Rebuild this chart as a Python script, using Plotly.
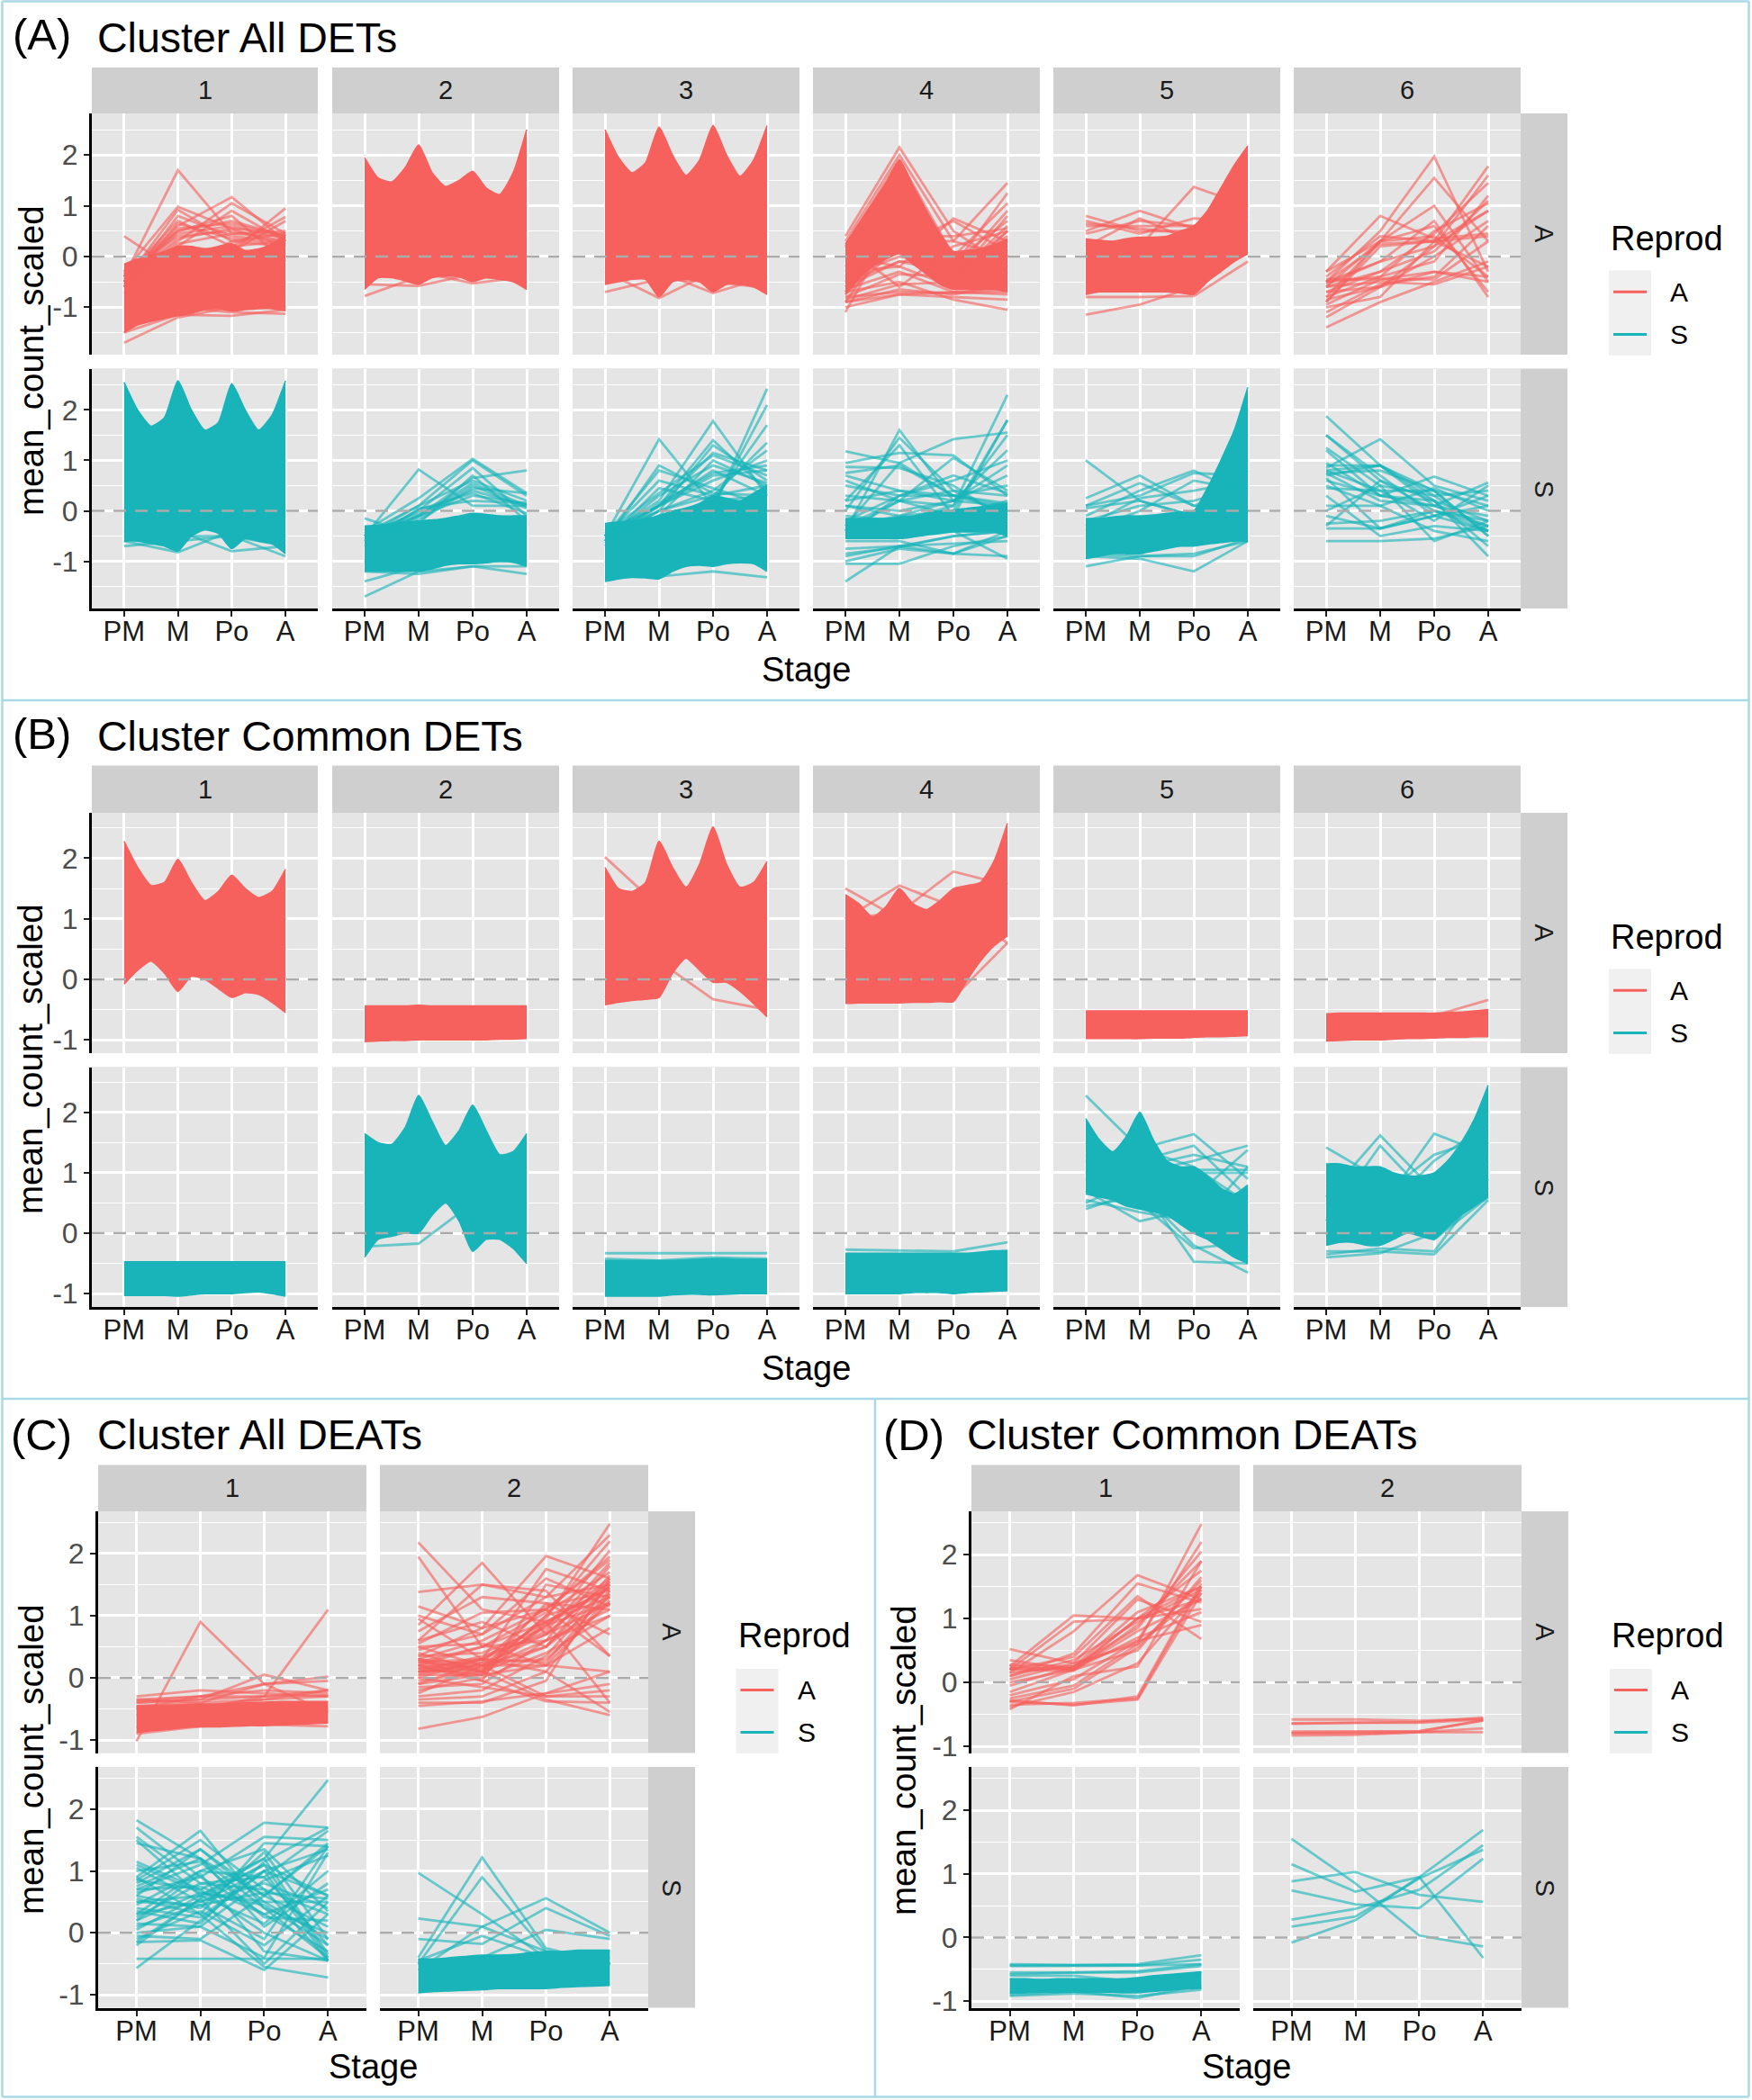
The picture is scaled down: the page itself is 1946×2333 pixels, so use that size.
import plotly.graph_objects as go

STAGES = ["PM", "M", "Po", "A"]
STAGE_X = [0, 1, 2, 3]
Y_TICKS = [-1, 0, 1, 2]
BAND_X = [0, .25, .5, .75, 1, 1.25, 1.5, 1.75, 2, 2.25, 2.5, 2.75, 3]

# ---- Dense bundles are summarised by their read-off upper/lower edge; stray lines are listed ----
# Panel A
A1A_top = [-.15, -.05, .02, .1, .2, .2, .15, .2, .25, .12, .15, .25, .42]
A1A_bot = [-1.5, -1.35, -1.28, -1.22, -1.17, -1.12, -1.05, -1.03, -1.08, -1.05, -1.03, -1.03, -1.07]
A1A_lines = [[-.4, 1.7, .45, .4], [.4, -.3, .3, .2], [-.3, .98, .55, .2], [-.5, .92, .3, .45], [-.6, .8, .4, .3], [-.4, .7, .2, .3], [-.4, .6, 1.17, .3], [-.5, .3, 1.05, .45], [-.6, .2, .9, .3], [-.5, .5, .8, -.1], [-.6, -.1, .1, .95], [-.5, 0, .2, .78], [-.4, .2, .1, .7], [-1.7, -1.2, -1, -.9], [-1.5, -1.15, -1.17, -1.05], [-.7, -1, -1.1, -1.13], [-.5, .55, .65, .4], [-.3, .4, .5, .3], [-.5, .45, .6, .35], [-.45, .35, .55, .45], [-.6, .65, .35, .25], [-.35, .5, .7, .4], [-.55, .25, .45, .5]]
A2A_top = [1.95, 1.55, 1.47, 1.75, 2.2, 1.65, 1.38, 1.5, 1.68, 1.35, 1.22, 1.65, 2.5]
A2A_bot = [-.65, -.42, -.42, -.48, -.55, -.42, -.38, -.4, -.5, -.42, -.45, -.5, -.65]
A2A_lines = [[-.78, -.4, -.38, -.5], [-.55, -.58, -.35, -.5], [-.3, -.3, -.53, -.4]]
A3A_top = [2.5, 1.95, 1.65, 1.85, 2.55, 2, 1.6, 1.9, 2.58, 2, 1.58, 1.9, 2.58]
A3A_bot = [-.55, -.5, -.45, -.45, -.8, -.5, -.45, -.5, -.7, -.55, -.55, -.6, -.75]
A3A_lines = [[-.7, -.45, -.5, -.62], [-.3, -.82, -.3, -.4], [-.3, -.3, -.72, -.4]]
A4A_top = [.25, .65, 1.05, 1.45, 1.9, 1.4, .9, .45, .1, .12, .15, .22, .35]
A4A_bot = [-.75, -.45, -.2, -.05, .05, -.15, -.35, -.55, -.65, -.65, -.65, -.65, -.7]
A4A_lines = [[.4, 2.15, .5, -.2], [.3, 2, .3, 0], [.2, 1.9, 0, .3], [-.7, 1.1, -.2, .3], [-1.1, .8, -.3, .4], [-.9, .6, -.5, .1], [-.6, .4, -.6, -.3], [.2, -.6, .2, .5], [0, -.2, .75, .3], [-.3, .2, .7, .1], [-.5, .3, .3, 1.45], [-.4, 0, -.2, 1.25], [-.4, .1, 0, 1.05], [-.6, -.1, -.3, .9], [-.5, -.1, -.1, .7], [-1, -.75, -.7, -.65], [-.9, -.75, -.8, -.85], [-.7, -.5, -.85, -1.05], [-.8, -.7, -.72, -.7], [-.3, -.2, -.6, -.3], [.1, .5, -.4, .5], [-.2, .7, -.3, 0], [-.8, -.35, -.4, .6], [-.85, -.55, -.5, .5], [-.75, .2, -.45, .8], [.05, .4, .4, .55], [-.65, -.3, -.7, -.75], [-.9, -.65, -.75, -.55]]
A5A_top = [.35, .32, .3, .35, .38, .38, .4, .5, .6, .9, 1.35, 1.8, 2.18]
A5A_bot = [-.75, -.7, -.7, -.7, -.7, -.7, -.7, -.72, -.75, -.5, -.3, -.1, .05]
A5A_lines = [[.8, .5, .5, .6], [.5, .9, .55, .9], [.1, .2, 1.37, 1], [.6, .6, .6, .5], [-1.15, -.95, -.6, .1], [-.8, -.8, -.78, -.1], [.2, .75, .3, .3], [.65, .55, .45, .8], [.45, .7, .6, 1], [.7, .45, .75, .7]]
A6A_lines = [[-.3, .8, .35, .45], [-.5, .5, 1.97, -.3], [-.9, .3, 1.55, .3], [-.6, .3, 1, -.5], [-.4, .4, .3, 1.78], [-.5, -.1, .2, 1.6], [-.7, -.3, .45, 1.45], [-.5, -.4, -.1, 1.2], [-.6, -.3, .1, 1.1], [-.8, -.4, .5, 1.05], [-1, -.8, .3, .9], [-1.4, -.9, -.5, -.1], [-1.1, -.55, -.4, .6], [-.95, -.45, -.45, .3], [-.6, -.5, -.55, -.2], [-.45, -.45, -.3, -.5], [-.5, .25, .3, .4], [-.9, .2, .3, -.2], [-.7, -.6, 0, .7], [-.3, .3, .4, -.4], [-.8, .3, .6, -.7], [-.55, -.1, .7, -.8], [-1.2, -.6, .2, .9], [-.85, -.6, -.3, -.4]]
A1S_top = [2.55, 2, 1.68, 1.85, 2.58, 2, 1.6, 1.75, 2.52, 2, 1.6, 1.9, 2.58]
A1S_bot = [-.6, -.6, -.65, -.7, -.8, -.5, -.38, -.45, -.75, -.55, -.6, -.65, -.85]
A1S_lines = [[-.7, -.6, -.5, -.7], [-.6, -.82, -.4, -.6], [-.4, -.4, -.8, -.7], [-.5, -.5, -.5, -.9]]
A2S_top = [-.3, -.28, -.25, -.22, -.2, -.18, -.15, -.1, -.05, -.07, -.1, -.1, -.1]
A2S_bot = [-1.2, -1.2, -1.2, -1.2, -1.2, -1.15, -1.08, -1.05, -1.05, -1.03, -1, -1.02, -1.1]
A2S_lines = [[-.15, -.5, -.4, -.3], [-.5, .82, .1, .1], [-.4, .25, 1.03, .35], [-.5, .1, 1, .3], [-.5, 0, .85, -.1], [-.6, -.1, .65, .8], [-.5, -.1, .55, .1], [-.45, .1, .6, .2], [-.6, -.2, .45, .35], [-.5, -.1, .3, .15], [-.7, .05, .2, .15], [-.4, -.25, .7, -.2], [-1.4, -1.1, -1, -1], [-1.7, -1.2, -1.1, -1.25], [-1.2, -1.25, -1.1, -1.1], [-.55, -.15, .5, .05], [-.45, -.05, .4, .1], [-.6, .02, .35, -.05]]
A3S_top = [-.25, -.22, -.2, -.15, -.1, 0, .05, .15, .3, .25, .2, .35, .5]
A3S_bot = [-1.4, -1.35, -1.32, -1.33, -1.35, -1.2, -1.1, -1.08, -1.1, -1.05, -1.03, -1.05, -1.2]
A3S_lines = [[-.5, 1.42, .1, .2], [-.6, .9, .35, .3], [-.5, .8, .45, .1], [-.5, .6, .3, .5], [-.6, .45, .2, .3], [-.5, .2, 1.78, .3], [-.4, .1, 1.4, .4], [-.6, 0, 1.3, .6], [-.5, .1, 1.15, .8], [-.5, -.1, 1, .5], [-.5, .1, .8, .3], [-.6, -.2, .05, 2.42], [-.5, -.1, .1, 2.1], [-.7, -.1, .2, 1.7], [-.5, 0, .3, 1.35], [-.6, 0, .4, 1.2], [-.5, .1, .6, 1], [-.7, .1, .7, .8], [-1, -1.3, -1.2, -1.32], [-.55, .3, .9, .55], [-.45, .35, 1.1, .7], [-.65, .15, .75, .9]]
A4S_top = [-.15, -.15, -.15, -.15, -.12, -.1, -.05, 0, .02, .05, .08, .12, .15]
A4S_bot = [-.55, -.55, -.55, -.55, -.55, -.52, -.48, -.45, -.42, -.42, -.42, -.42, -.5]
A4S_lines = [[1.18, .95, .3, .1], [.95, 1.15, 1.1, .3], [.87, .85, .5, -.2], [.75, .9, .3, 0], [-.4, 1.6, .2, .1], [0, 1.45, .4, -.1], [.2, 1.3, -.1, .1], [-.3, .95, 1.42, 1.55], [-.4, .2, 1.05, .4], [.7, .4, .2, .9], [.3, .2, .1, 2.3], [.1, -.1, 0, 1.8], [-.1, -.2, .1, 1.5], [-.2, -.3, -.1, 1.8], [.1, 0, .2, 1.2], [-.5, .3, .6, 1], [-.3, -.1, .2, .7], [.2, .4, .3, .5], [-.3, .2, .4, .3], [.6, .2, -.1, .2], [-1.4, -.7, -.5, -.4], [-1.05, -1.05, -.7, -.5], [-1, -.75, -.85, -.5], [-.9, -.7, -.85, -.9], [-.6, -.6, -.85, -.4], [-.75, -.7, -.65, -.6], [-.85, -.72, -.5, -.4], [-.4, -.4, -.4, -.95], [.5, .3, .3, .15], [-.2, .3, .7, .35]]
A5S_top = [-.15, -.15, -.12, -.1, -.1, -.08, -.05, -.02, 0, .45, 1, 1.6, 2.45]
A5S_bot = [-.95, -.9, -.85, -.85, -.85, -.8, -.75, -.7, -.7, -.66, -.63, -.6, -.6]
A5S_lines = [[1, .2, -.1, 0], [.25, .7, .1, 0], [.1, .55, .1, .5], [-.1, .4, .8, .3], [.1, .3, .75, .7], [-.3, .25, .4, .6], [-.2, .1, .2, .5], [.05, .2, -.1, .8], [-1.1, -.9, -.85, -.6], [-.9, -.95, -1.2, -.6], [-.85, -.9, -.9, -.55], [-.4, 0, .6, .4]]
A6S_lines = [[1.88, .9, .2, -.2], [1.5, .6, 0, -.3], [1.5, .7, -.1, .1], [1.25, .5, .3, -.4], [1.2, .3, .1, -.1], [.9, .9, .1, -.3], [.85, 1.42, .5, .2], [.8, .9, .4, -.5], [.75, .8, .4, .1], [.7, .9, .3, .4], [.95, .3, .2, -.9], [.8, .4, -.2, .5], [.75, .2, .1, .56], [.65, -.35, -.1, .3], [.6, .3, .68, .3], [.45, .4, .4, -.5], [.1, .1, .45, 0], [-.1, -.35, 0, -.2], [-.25, -.2, 0, -.4], [-.35, -.35, -.1, -.4], [-.6, -.6, -.55, -.3], [.3, -.5, -.3, -.4], [0, .5, -.6, -.2], [.5, .1, -.4, -.6], [-.3, .6, .2, -.7]]

# Panel B
B1A_top = [2.28, 1.85, 1.55, 1.6, 1.98, 1.6, 1.3, 1.45, 1.72, 1.5, 1.35, 1.45, 1.82]
B1A_bot = [-.08, .15, .3, .1, -.2, .05, 0, -.15, -.3, -.22, -.25, -.38, -.55]
B2A_top = [-.44, -.44, -.44, -.44, -.43, -.44, -.44, -.44, -.44, -.44, -.44, -.44, -.44]
B2A_bot = [-1.03, -1.02, -1.01, -1.01, -1, -1, -1, -1, -1, -1, -.99, -.99, -.98]
B3A_top = [1.85, 1.5, 1.45, 1.6, 2.28, 1.85, 1.52, 1.9, 2.52, 1.9, 1.52, 1.6, 1.95]
B3A_bot = [-.42, -.38, -.35, -.33, -.3, .1, .35, .15, -.05, -.05, -.2, -.4, -.62]
B3A_lines = [[2.02, 1.2, 1.2, 1.6], [-.3, .3, -.33, -.5]]
B4A_top = [1.4, 1.25, 1.03, 1.2, 1.5, 1.25, 1.15, 1.3, 1.5, 1.55, 1.6, 1.95, 2.58]
B4A_bot = [-.4, -.39, -.39, -.39, -.39, -.38, -.38, -.37, -.37, -.02, .3, .55, .72]
B4A_lines = [[1.5, 1, 1.1, 1.6], [1, 1.55, 1.2, 1.6], [1, 1.1, 1.78, 1.55], [.5, .9, 1.2, .6], [.4, .3, -.3, .6]]
B5A_top = [-.52, -.52, -.52, -.52, -.52, -.52, -.52, -.52, -.52, -.52, -.52, -.52, -.52]
B5A_bot = [-.98, -.98, -.98, -.98, -.98, -.97, -.97, -.97, -.96, -.95, -.95, -.94, -.93]
B6A_top = [-.57, -.56, -.56, -.56, -.56, -.56, -.56, -.56, -.56, -.55, -.54, -.52, -.5]
B6A_bot = [-1.02, -1.01, -1, -1, -1, -.99, -.98, -.98, -.97, -.96, -.96, -.95, -.95]
B6A_lines = [[-.7, -.65, -.6, -.34]]
B1S_top = [-.47, -.47, -.47, -.47, -.47, -.47, -.47, -.47, -.47, -.47, -.47, -.47, -.47]
B1S_bot = [-1.03, -1.03, -1.03, -1.03, -1.04, -1.02, -1, -1, -1, -.98, -.97, -1, -1.04]
B2S_top = [1.65, 1.5, 1.47, 1.75, 2.28, 1.85, 1.45, 1.7, 2.12, 1.7, 1.3, 1.35, 1.65]
B2S_bot = [-.4, -.1, -.05, 0, 0, .3, .5, .2, -.3, -.1, -.1, -.25, -.5]
B2S_lines = [[-.22, -.17, .5, .1]]
B3S_top = [-.45, -.45, -.45, -.45, -.45, -.45, -.44, -.43, -.42, -.42, -.43, -.43, -.43]
B3S_bot = [-1.04, -1.04, -1.04, -1.04, -1.04, -1.02, -1.01, -1.01, -1.02, -1.01, -1, -1, -1]
B3S_lines = [[-.33, -.33, -.33, -.33], [-.42, -.45, -.4, -.42]]
B4S_top = [-.33, -.33, -.33, -.33, -.33, -.33, -.33, -.33, -.33, -.33, -.31, -.29, -.28]
B4S_bot = [-1, -1, -1, -1, -1, -.98, -.98, -.98, -1, -.98, -.97, -.96, -.95]
B4S_lines = [[-.27, -.28, -.3, -.15]]
B5S_top = [1.9, 1.55, 1.35, 1.6, 2, 1.55, 1.2, 1.1, 1.1, .95, .75, .65, .8]
B5S_bot = [.65, .6, .55, .45, .4, .35, .3, .15, 0, -.1, -.25, -.4, -.5]
B5S_lines = [[2.28, 1.4, 1.1, .5], [.4, .7, .6, .1], [.45, .6, .3, 0], [.7, .2, .4, -.3], [1.2, 1.4, 1.64, .9], [1, 1.2, 1.45, .6], [.8, 1, 1.2, 1.45], [.9, 1.1, .6, 1.38], [.5, .9, .1, 1.1], [1.2, .8, -.47, -.5], [1, .7, -.2, -.65], [.7, .5, -.25, -.15], [1.1, .9, .8, -.4], [1.3, 1, 1.05, 1.05], [.55, .35, .2, .7], [.9, .45, 1, 1], [1.5, 1.1, 1.3, 1.1]]
B6S_top = [1.15, 1.15, 1.1, 1.1, 1.1, 1, .95, .95, 1, 1.2, 1.5, 1.9, 2.45]
B6S_bot = [-.2, -.15, -.15, -.2, -.2, -.1, 0, -.05, -.1, .1, .3, .45, .6]
B6S_lines = [[1.42, .9, .9, 1.5], [.6, 1.62, .7, 1], [.2, 1.45, .5, 1.2], [-.3, -.3, -.35, .55], [-.4, -.33, 0, .75], [.3, .4, 1.65, 1.3], [.8, .6, 1.3, 1.6], [0, .3, 1.2, 1.8], [.5, .2, -.1, .6], [-.35, -.25, -.3, .9]]

# Panel C
C1A_top = [-.45, -.45, -.44, -.43, -.42, -.42, -.41, -.4, -.39, -.38, -.38, -.38, -.38]
C1A_bot = [-.88, -.85, -.83, -.8, -.79, -.79, -.78, -.77, -.77, -.76, -.75, -.74, -.73]
C1A_lines = [[-1.02, .9, -.1, -.55], [-.8, -.5, -.3, 1.1], [-.3, -.2, -.25, -.3], [-.35, -.3, -.1, .02], [-.4, -.35, .05, -.2], [-.45, -.4, -.1, -.05], [-.5, -.3, -.2, -.25], [-.35, -.4, -.35, -.2], [-.6, -.45, -.35, -.3], [-.4, -.35, -.3, -.2], [-.38, -.3, -.3, -.28], [-.9, -.78, -.75, -.78]]
C2A_lines = [[2.18, 1.1, .9, 1.3], [1.95, .5, .6, 1], [1.38, 1.5, 1.3, 1.5], [1.15, .8, 1.96, 1.6], [.95, .3, 1.75, 1.4], [.85, 1.85, .7, 1.2], [.75, 1.3, 1.2, .7], [.6, 1.5, 1.4, .35], [.55, 1.05, 1.1, 1.95], [.5, .2, .95, 2.48], [.45, .7, 1.3, 2.3], [.4, .1, 1, 2.2], [.35, .4, .8, 2.05], [.3, .6, 1.1, 1.9], [.25, .15, .6, 1.8], [.2, .5, 1.05, 1.7], [.15, .2, .5, 1.65], [.1, .35, .7, 1.55], [.05, .05, .9, 1.45], [0, .3, .25, 1.4], [-.05, .1, .5, 1.3], [-.1, .25, .3, 1.2], [-.15, -.1, .6, 1.1], [-.2, 0, .4, 1], [-.25, .2, .2, .8], [-.3, -.2, .35, 1.5], [-.35, -.3, .1, 1.35], [-.4, -.4, -.05, 1.6], [-.45, -.38, -.25, .1], [-.82, -.63, -.25, -.1], [.3, -.05, -.38, -.4], [.2, .1, -.35, -.6], [.15, .3, .1, -.55], [.1, .2, -.3, -.3], [0, -.15, -.3, -.2], [.5, .55, .2, .1], [.25, .5, .9, -.4], [.35, .8, 1.1, .35], [.6, .9, .5, 1.5], [1, .7, 1.6, 1.15], [.2, .25, 1.15, 1.4], [.1, .15, .85, 1.6], [.05, .3, .75, 1.85], [-.1, .05, .2, 1.25], [.3, .1, 1.2, 1.1], [.2, -.05, 1.5, 1.3], [.25, .3, .9, 1.45], [.15, .05, .85, 1.2], [.3, .2, .7, 1.55], [.1, .1, 1, 1.35]]
C1S_lines = [[1.82, 1.2, .6, .1], [1.7, .9, .3, -.3], [1.55, .8, .9, -.2], [1.5, .6, 1.1, -.4], [1.45, 1.2, .4, 0], [1.15, .7, 1.2, -.35], [1.05, .5, 1, .6], [.9, 1.65, .4, -.4], [.85, 1.5, .7, .3], [.8, 1.35, .5, .5], [.75, 1.2, .1, .8], [.7, 1.1, 1.78, 1.7], [.65, .9, 1.55, 1.5], [.6, .4, 1.3, -.1], [.55, .3, 1.45, 1.4], [.5, .6, 1.2, 2.47], [.45, 1, .9, 1.65], [.4, .25, 1, 1.35], [.35, .15, 1.15, 1.7], [.3, .5, .8, .4], [.25, .8, .7, -.45], [.2, .65, .5, -.1], [.15, .1, .85, 1.25], [.1, .45, -.1, 1.4], [.05, .6, .15, 1], [0, .1, -.4, 1.3], [-.05, -.1, .6, 1.45], [-.1, .35, -.2, .6], [-.15, -.12, -.6, .3], [-.2, .55, -.5, .5], [-.42, -.42, -.41, -.42], [-.57, .2, 1, -.45], [.9, .3, -.55, -.72], [.85, .7, 0, -.45], [.2, .95, -.3, -.45], [1, 1.15, .25, .2], [.7, .75, .3, .7], [.5, .45, .65, .55], [.3, 1, 1.35, .35], [1.1, .65, .45, -.2], [-.15, .55, 1.1, .6], [.6, 1.35, .6, 1.4]]
C2S_top = [-.42, -.42, -.4, -.38, -.36, -.36, -.35, -.32, -.3, -.3, -.28, -.28, -.28]
C2S_bot = [-.97, -.95, -.94, -.93, -.92, -.9, -.9, -.9, -.9, -.88, -.87, -.86, -.85]
C2S_lines = [[.97, .3, -.4, -.5], [.23, .1, -.3, -.5], [-.1, -.18, .4, -.05], [-.4, 1.22, -.25, -.5], [-.5, .9, -.3, -.4], [-.6, .1, .56, 0], [-.5, -.4, .05, -.1], [-.45, -.05, -.4, -.5]]

# Panel D
D1A_lines = [[.52, .3, .6, 1.4], [.35, .2, 1, 1.5], [.25, 1.05, 1, 1.3], [.2, .95, 1, 1.15], [.15, .8, 1.68, 1.3], [.1, .45, 1.55, 1.25], [.2, .4, 1.35, .68], [.05, .3, 1.3, .95], [-.05, .25, 1.1, 1.5], [.22, .22, 1, 1.75], [.2, .18, .9, 1.9], [.15, .25, .85, 2.05], [-.2, .05, .65, 2.2], [-.25, -.05, .6, 2.48], [-.3, -.1, .55, 1.6], [-.38, -.15, .3, 1.45], [-.42, .1, .25, 1.9], [-.3, -.35, -.27, 1.4], [-.35, -.32, -.25, 1.5], [-.28, -.36, -.22, 1.55], [0, .2, .7, 1.1], [.25, .2, .8, 1.3], [.1, .35, .95, 1.45], [-.15, .2, .5, 1.65], [.28, .25, .65, .9]]
D2A_lines = [[-.58, -.58, -.6, -.57], [-.64, -.63, -.62, -.55], [-.77, -.76, -.76, -.6], [-.8, -.8, -.78, -.72], [-.83, -.82, -.78, -.78], [-.65, -.63, -.63, -.58], [-.79, -.78, -.77, -.59]]
D1S_top = [-.65, -.65, -.66, -.65, -.65, -.65, -.65, -.65, -.63, -.6, -.58, -.56, -.54]
D1S_bot = [-.88, -.87, -.86, -.86, -.86, -.86, -.86, -.87, -.87, -.85, -.83, -.81, -.8]
D1S_lines = [[-.42, -.43, -.42, -.28], [-.45, -.45, -.44, -.35], [-.44, -.44, -.44, -.42], [-.55, -.55, -.53, -.42], [-.58, -.55, -.55, -.45], [-.9, -.85, -.95, -.75], [-.92, -.88, -.92, -.82], [-.6, -.6, -.7, -.55]]
D2S_lines = [[1.55, .85, .03, -.14], [1.15, .72, .95, -.32], [.88, 1.03, .67, .56], [.74, .52, .46, 1.24], [.28, .45, .75, 1.45], [.17, .33, .93, 1.38], [-.08, .27, .95, 1.69]]

# ---- Layout in pixels ----
W, H = 1946, 2333
RED, TEAL = "#F6615E", "#19B4BA"
RED_A, TEAL_A = "rgba(246,97,94,0.62)", "rgba(25,180,186,0.62)"
FONT = "Liberation Sans"
COLS_6 = [(102, 353), (369, 621), (636, 888), (903, 1155), (1170, 1422), (1437, 1689)]
SECTIONS = [
    dict(key="A", title="Cluster All DETs", cols=COLS_6, strip=(75, 126), rows=[(126, 394), (409.5, 676)],
         yr=[-1.936, 2.82], labx=12, titx=106, laby=38, tity=42, sy=401, stx=895, sty=744, ylx=34,
         rs=(1689, 1741), legx=1787, legy=265, keyy=(300.5, 348, 395)),
    dict(key="B", title="Cluster Common DETs", cols=COLS_6, strip=(850.5, 903), rows=[(903, 1170), (1185.5, 1452)],
         yr=[-1.22, 2.75], labx=12, titx=106, laby=815, tity=818, sy=1177, stx=895, sty=1520, ylx=34,
         rs=(1689, 1741), legx=1787, legy=1041, keyy=(1076.5, 1124, 1171)),
    dict(key="C", title="Cluster All DEATs", cols=[(109, 407), (422, 720)], strip=(1627.5, 1679), rows=[(1679, 1947.5), (1963, 2230.5)],
         yr=[-1.21, 2.68], labx=10, titx=106, laby=1594, tity=1594, sy=1955, stx=414, sty=2296, ylx=34,
         rs=(720, 772), legx=817.5, legy=1817, keyy=(1854, 1901, 1948)),
    dict(key="D", title="Cluster Common DEATs", cols=[(1079, 1377), (1392, 1690)], strip=(1627.5, 1679), rows=[(1679, 1947.5), (1963, 2230.5)],
         yr=[-1.105, 2.68], labx=979, titx=1072, laby=1594, tity=1594, sy=1955, stx=1384, sty=2296, ylx=1003,
         rs=(1690, 1742), legx=1788, legy=1817, keyy=(1854, 1901, 1948)),
]
ROW_NAMES = ["A", "S"]


def px(x):
    return x / W


def py(y):
    return 1 - y / H


fig = go.Figure()
layout = {}
shapes, notes = [], []


def rect(x0, y0, x1, y1, color):
    shapes.append(dict(type="rect", xref="paper", yref="paper", x0=px(x0), x1=px(x1), y0=py(y0), y1=py(y1),
                       fillcolor=color, line=dict(width=0), layer="below"))


def seg(x0, y0, x1, y1, color, width):
    shapes.append(dict(type="line", xref="paper", yref="paper", x0=px(x0), x1=px(x1), y0=py(y0), y1=py(y1),
                       line=dict(color=color, width=width), layer="above"))


def note(text, x, y, size, color="black", xanchor="center", angle=0):
    notes.append(dict(text=text, xref="paper", yref="paper", x=px(x), y=py(y), xanchor=xanchor, yanchor="middle",
                      showarrow=False, textangle=angle, font=dict(family=FONT, size=size, color=color)))


axis_no = 0
for sec in SECTIONS:
    note(f"({sec['key']})", sec["labx"], sec["laby"], 49, xanchor="left")
    note(sec["title"], sec["titx"], sec["tity"], 46.5, xanchor="left")
    note("mean_count_scaled", sec["ylx"], sec["sy"], 38.5, angle=-90)
    note("Stage", sec["stx"], sec["sty"], 38)
    note("Reprod", sec["legx"], sec["legy"], 38, xanchor="left")
    ky = sec["keyy"]
    rect(sec["legx"], ky[0], sec["legx"] + 47, ky[2], "#F0F0F0")
    for i, (name, col) in enumerate(zip(ROW_NAMES, (RED, TEAL))):
        mid = (ky[i] + ky[i + 1]) / 2
        seg(sec["legx"] + 5, mid, sec["legx"] + 42, mid, col, 3)
        note(name, sec["legx"] + 66, mid, 30, xanchor="left")
    for c, (x0, x1) in enumerate(sec["cols"]):
        rect(x0, sec["strip"][0], x1, sec["strip"][1], "#CFCFCF")
        note(str(c + 1), (x0 + x1) / 2, sum(sec["strip"]) / 2, 29, "#1A1A1A")
    for r, (y0, y1) in enumerate(sec["rows"]):
        rect(sec["rs"][0], y0, sec["rs"][1], y1, "#CFCFCF")
        note(ROW_NAMES[r], sum(sec["rs"]) / 2, (y0 + y1) / 2, 29, "#1A1A1A", angle=90)
        for c, (x0, x1) in enumerate(sec["cols"]):
            axis_no += 1
            xa, ya = f"x{axis_no}", f"y{axis_no}"
            bottom, first = r == 1, c == 0
            layout[f"xaxis{axis_no}"] = dict(
                domain=[px(x0), px(x1)], range=[-0.6, 3.6], anchor=ya, tickmode="array", tickvals=STAGE_X,
                ticktext=STAGES if bottom else None, showticklabels=bottom, ticks="outside" if bottom else "",
                ticklen=6, tickwidth=2, tickcolor="#222222", ticklabelstandoff=-10, automargin=False,
                tickfont=dict(family=FONT, size=31, color="#1A1A1A"),
                showgrid=True, gridcolor="white", gridwidth=2.5, zeroline=False,
                showline=bottom, linecolor="black", linewidth=3, fixedrange=True)
            layout[f"yaxis{axis_no}"] = dict(
                domain=[py(y1), py(y0)], range=sec["yr"], anchor=xa, tickmode="array", tickvals=Y_TICKS,
                ticktext=[str(v) for v in Y_TICKS], showticklabels=first, ticks="outside" if first else "",
                ticklen=6, tickwidth=2, tickcolor="#222222", automargin=False,
                tickfont=dict(family=FONT, size=32, color="#4D4D4D"),
                showgrid=True, gridcolor="white", gridwidth=2.5, zeroline=False,
                minor=dict(tick0=0.5, dtick=1, showgrid=True, gridcolor="white", gridwidth=1.4, ticks=""),
                showline=first, linecolor="black", linewidth=3, fixedrange=True)
            rect(x0, y0, x1, y1, "#E5E5E5")

            prefix = f"{sec['key']}{c + 1}{ROW_NAMES[r]}"
            solid, alpha = (RED, RED_A) if r == 0 else (TEAL, TEAL_A)
            top = globals().get(prefix + "_top")
            bot = globals().get(prefix + "_bot")
            if top:
                edge = dict(color=solid, width=1.5, shape="spline", smoothing=0.55)
                fig.add_trace(go.Scatter(x=BAND_X, y=top, mode="lines", line=edge, xaxis=xa, yaxis=ya,
                                         hoverinfo="skip", showlegend=False))
                fig.add_trace(go.Scatter(x=BAND_X, y=bot, mode="lines", line=edge, fill="tonexty", fillcolor=solid,
                                         xaxis=xa, yaxis=ya, hoverinfo="skip", showlegend=False))
            for vals in globals().get(prefix + "_lines", []):
                fig.add_trace(go.Scatter(x=STAGE_X, y=vals, mode="lines", line=dict(color=alpha, width=2.8),
                                         xaxis=xa, yaxis=ya, hoverinfo="skip", showlegend=False))
            fig.add_trace(go.Scatter(x=[-0.6, 3.6], y=[0, 0], mode="lines",
                                     line=dict(color="#ABABAB", width=2.5, dash="14px,10px"),
                                     xaxis=xa, yaxis=ya, hoverinfo="skip", showlegend=False))

# panel frames
FRAME = "#A9D9E6"
seg(2.5, 1.5, 1942.5, 1.5, FRAME, 2.5)
seg(2.5, 1.5, 2.5, 2329.5, FRAME, 2.5)
seg(1942.5, 1.5, 1942.5, 2329.5, FRAME, 2.5)
seg(2.5, 778, 1942.5, 778, FRAME, 2.5)
seg(2.5, 1554, 1942.5, 1554, FRAME, 2.5)
seg(2.5, 2329.5, 1942.5, 2329.5, FRAME, 2.5)
seg(972, 1554, 972, 2329.5, FRAME, 2.5)

fig.update_layout(width=W, height=H, margin=dict(l=0, r=0, t=0, b=0, autoexpand=False), paper_bgcolor="white",
                  plot_bgcolor="#E5E5E5", showlegend=False, shapes=shapes, annotations=notes, **layout)
fig.write_html("out.html", config=dict(displayModeBar=False),
               post_script="document.body.style.margin='0';document.body.style.overflow='hidden';")
